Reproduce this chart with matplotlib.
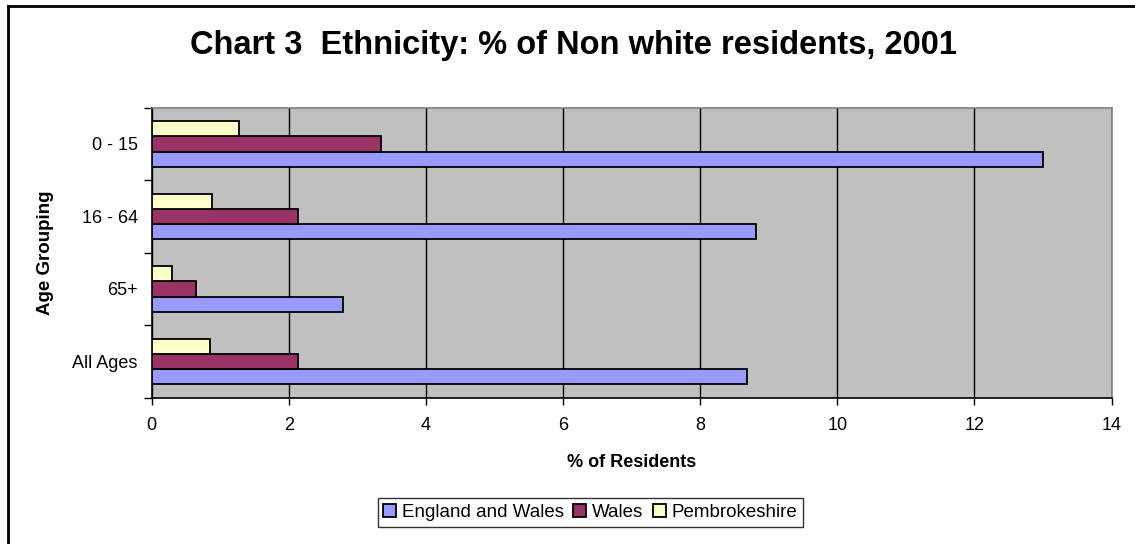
import matplotlib
matplotlib.use("Agg")
import matplotlib.pyplot as plt
import numpy as np
from matplotlib.lines import Line2D

plt.rcParams["font.family"] = ["Liberation Sans", "DejaVu Sans"]

# data
age_groups = ["0 - 15", "16 - 64", "65+", "All Ages"]
england_wales = [13.0, 8.82, 2.79, 8.69]
wales = [3.34, 2.13, 0.65, 2.13]
pembrokeshire = [1.27, 0.88, 0.30, 0.85]

series = [
    ("England and Wales", england_wales, "#9999FF"),
    ("Wales", wales, "#993366"),
    ("Pembrokeshire", pembrokeshire, "#FFFFCC"),
]

fig = plt.figure(figsize=(11.35, 5.44), dpi=100)
ax = fig.add_axes([0.1337, 0.269, 0.9793 - 0.1337, 0.802 - 0.269])
ax.set_facecolor("#C0C0C0")

# top category first
n = len(age_groups)
centers = np.arange(n)[::-1] + 0.5
bar_h = 0.21
offsets = [-bar_h, 0, bar_h]

handles = []
for (name, vals, color), off in zip(series, offsets):
    b = ax.barh(centers + off, vals, height=bar_h, color=color,
                edgecolor="black", linewidth=1.3, label=name, zorder=3)
    handles.append(b)

ax.set_xlim(0, 14)
ax.set_ylim(0, n)
ax.set_xticks(np.arange(0, 15, 2))
ax.xaxis.grid(True, color="black", linewidth=1.0, zorder=1)
ax.set_axisbelow(True)

# category ticks sit between groups, labels at group centres
ax.set_yticks(np.arange(0, n + 1))
ax.set_yticklabels([])
ax.set_yticks(centers, minor=True)
ax.set_yticklabels(age_groups, minor=True)
ax.tick_params(axis="y", which="major", direction="out", length=6, width=1)
ax.tick_params(axis="y", which="minor", length=0, pad=10, labelsize=13)
ax.tick_params(axis="x", direction="out", length=5, width=1, pad=9, labelsize=13)

for side in ["top", "right"]:
    ax.spines[side].set_color("#808080")
    ax.spines[side].set_linewidth(1.2)
for side in ["left", "bottom"]:
    ax.spines[side].set_color("#000000")
    ax.spines[side].set_linewidth(1.2)

ax.set_xlabel("% of Residents", fontsize=13, fontweight="bold", labelpad=14)
ax.set_ylabel("Age Grouping", fontsize=13.5, fontweight="bold", labelpad=13)

fig.text(0.505, 0.917, "Chart 3  Ethnicity: % of Non white residents, 2001",
         ha="center", va="center", fontsize=23.5, fontweight="bold")

leg = fig.legend(handles=handles, loc="center", bbox_to_anchor=(0.52, 0.058),
                 ncol=3, frameon=True, fancybox=False, fontsize=13.5,
                 handlelength=0.7, handleheight=0.7, handletextpad=0.3,
                 columnspacing=0.5, borderpad=0.3)
leg.get_frame().set_edgecolor("black")
leg.get_frame().set_linewidth(1.0)

# outer chart frame (only left and top edges visible in the reference)
fig.add_artist(Line2D([8 / 1135, 8 / 1135], [0, 1 - 6 / 544], color="black",
                      linewidth=2, transform=fig.transFigure))
fig.add_artist(Line2D([8 / 1135, 1], [1 - 6 / 544, 1 - 6 / 544], color="black",
                      linewidth=2, transform=fig.transFigure))

fig.savefig("out.png", dpi=100, facecolor="white")
